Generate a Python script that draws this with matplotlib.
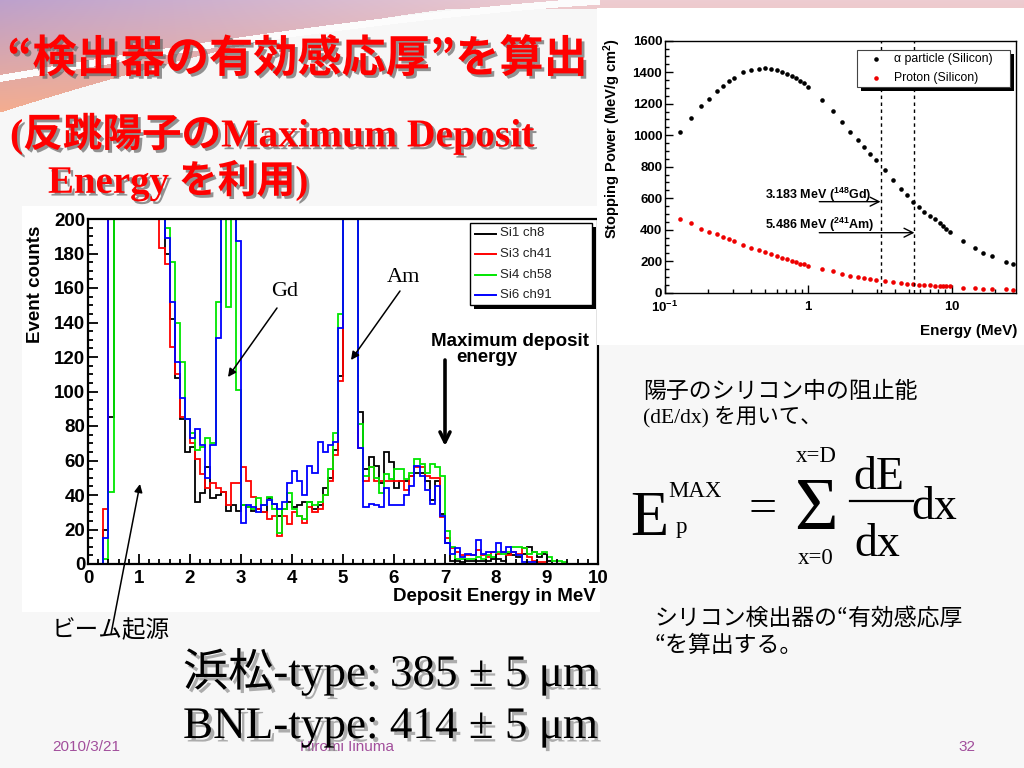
import numpy as np
import matplotlib
matplotlib.use("Agg")
import matplotlib.pyplot as plt
import matplotlib.patheffects as pe
from matplotlib.patches import Rectangle
from matplotlib.lines import Line2D
from matplotlib.ticker import MultipleLocator, LogLocator, NullFormatter

# ---------------- data ----------------
bin_edges_mev = np.round(np.linspace(0.0, 10.0, 101), 2)

# histogram counts per 0.1 MeV bin (values above 200 are off-scale)
si1_ch8 = [0, 0, 0, 20, 85, 250, 250, 250, 250, 250, 250, 250, 250, 250, 250,
           180, 142, 108, 84, 65, 68, 36, 41, 56, 38,
           40, 42, 31, 34, 31, 34, 33, 31, 32, 30,
           38, 35, 28, 32, 36, 33, 34, 36, 36, 32,
           34, 44, 50, 66, 109, 250, 250, 250,
           88, 55, 62, 57, 47, 65, 59, 44, 48, 48,
           51, 53, 53, 48, 37, 48, 29, 12, 2, 2,
           1, 2, 2, 2, 2, 2, 3, 3, 2, 6,
           5, 4, 6, 10, 7, 4, 6, 2, 0, 0, 0, 0, 0, 0, 0, 0, 0]
si3_ch41 = [0, 0, 0, 32, 250, 250, 250, 250, 250, 250, 250, 250, 250, 250,
            183, 174, 126, 110, 85, 84, 70, 61, 52, 44,
            47, 44, 42, 34, 47, 47, 56, 48, 39, 32,
            30, 26, 28, 16, 28, 23, 30, 28, 24, 33,
            30, 32, 40, 48, 63, 106, 250, 250, 250,
            67, 48, 56, 48, 48, 48, 48, 48, 48, 43,
            51, 56, 56, 51, 50, 50, 27, 15, 9, 7,
            5, 5, 5, 8, 5, 4, 7, 6, 7, 5,
            7, 6, 9, 4, 2, 1, 1, 0, 0, 0, 0, 0, 0, 0, 0, 0, 0]
si4_ch58 = [0, 0, 0, 3, 42, 250, 250, 250, 250, 250, 250, 250, 250, 250, 250,
            195, 175, 140, 117, 84, 76, 66, 68, 73, 70,
            152, 250, 149, 250, 101, 34, 33, 32, 38, 34,
            39, 32, 18, 32, 41, 32, 28, 26, 36, 34,
            36, 40, 55, 76, 145, 250, 250, 250,
            81, 51, 56, 50, 41, 52, 49, 55, 55, 49,
            53, 61, 58, 53, 58, 56, 51, 19, 10, 3,
            3, 3, 3, 4, 3, 5, 4, 7, 6, 7,
            10, 10, 9, 6, 7, 6, 7, 4, 2, 2, 1, 0, 0, 0, 0, 0, 0]
si6_ch91 = [0, 0, 0, 15, 250, 250, 250, 250, 250, 250, 250, 250, 250, 250, 250,
            189, 152, 117, 96, 84, 73, 78, 69, 50, 69,
            131, 250, 250, 250, 187, 24, 34, 33, 30, 34,
            37, 35, 32, 36, 47, 54, 48, 40, 57, 53,
            71, 65, 69, 71, 137, 250, 250, 250,
            67, 33, 35, 34, 33, 44, 34, 34, 34, 40,
            45, 57, 51, 43, 35, 45, 28, 12, 6, 9,
            4, 6, 5, 14, 6, 7, 7, 12, 7, 10,
            7, 5, 1, 1, 1, 0, 0, 0, 0, 0, 0, 0, 0, 0, 0, 0, 0]
series_values = [si1_ch8, si3_ch41, si4_ch58, si6_ch91]
series_labels = ["Si1 ch8", "Si3 ch41", "Si4 ch58", "Si6 ch91"]
series_colors = ["#000000", "#ff0000", "#00e600", "#0000ff"]

# stopping power in silicon (MeV/g cm^2)
energy_mev = [0.127, 0.153, 0.178, 0.203, 0.229, 0.253, 0.278, 0.303, 0.352, 0.40,
              0.45, 0.50, 0.55, 0.60, 0.65, 0.71, 0.77, 0.82, 0.88, 0.93, 1.0,
              1.24, 1.48, 1.71, 1.96, 2.22, 2.45, 2.70, 2.95, 3.41, 3.89,
              4.40, 4.90, 5.36, 5.87, 6.39, 7.0, 7.59, 8.22, 8.66, 9.14, 9.64,
              11.9, 14.4, 16.4, 19.0, 23.9, 26.5]
alpha_sp = [1022, 1111, 1183, 1230, 1281, 1314, 1344, 1365, 1403, 1414,
            1422, 1424, 1422, 1414, 1403, 1390, 1374, 1361, 1344, 1329, 1306,
            1221, 1154, 1082, 1022, 971, 923, 883, 843, 777, 715,
            660, 618, 578, 542, 514, 487, 466, 445, 423, 402, 385,
            328, 286, 254, 233, 195, 180]
proton_sp = [468, 440, 406, 387, 371, 354, 339, 326, 303, 286,
             271, 258, 246, 233, 220, 212, 201, 193, 184, 180, 171,
             150, 136, 121, 108, 100, 93, 85, 79, 74, 68,
             62, 57, 55, 51, 49, 47, 45, 43, 42, 40, 40,
             32, 28, 26, 24, 22, 20]
gd_energy = 3.183
am_energy = 5.486

# ---------------- figure ----------------
plt.rcParams['font.family'] = ['Liberation Sans', 'Noto Sans CJK JP']
plt.rcParams['mathtext.fontset'] = 'custom'
plt.rcParams['mathtext.rm'] = 'Liberation Sans:bold'
plt.rcParams['mathtext.it'] = 'Liberation Sans:bold'
plt.rcParams['mathtext.bf'] = 'Liberation Sans:bold'

W, H = 1024, 768
fig = plt.figure(figsize=(10.24, 7.68), dpi=100)


def fx(x):
    return x / W


def fy(y):
    return 1 - y / H


# background
bg = fig.add_axes([0, 0, 1, 1], zorder=0)
bg.set_xlim(0, W)
bg.set_ylim(H, 0)
bg.axis('off')
yy, xx = np.mgrid[0:H, 0:W].astype(float)
img = np.ones((H, W, 3)) * 0.972
yb = 112 * np.clip(1 - xx / 560, 0, None) ** 1.6
t = np.clip(xx / 560, 0, 1)[..., None]
s = np.clip(yy / 112, 0, 1)[..., None]
purple = np.array([0.74, 0.63, 0.80])
pink = np.array([0.93, 0.80, 0.82])
orange = np.array([0.96, 0.68, 0.56])
col = (1 - s) * ((1 - t) * purple + t * pink) + s * orange
mask = (yy < yb) | (yy < 9)
img[mask] = col[mask]
ys = 78 * np.clip(1 - xx / 620, 0, None) ** 1.35
stripe = (np.abs(yy - ys) < 3.5) & (xx < 600)
img[stripe] = 0.99
bg.imshow(img, extent=(0, W, H, 0), aspect='auto', interpolation='bilinear')

# white panels
fig.add_artist(Rectangle((fx(22), fy(612)), fx(600) - fx(22), fy(206) - fy(612),
                         transform=fig.transFigure, facecolor='white', edgecolor='none', zorder=0.5))
fig.add_artist(Rectangle((fx(597), fy(345)), fx(1024) - fx(597), fy(8) - fy(345),
                         transform=fig.transFigure, facecolor='white', edgecolor='none', zorder=2))

# ---------------- histogram ----------------
axh = fig.add_axes([fx(88), fy(564), fx(598) - fx(88), fy(219) - fy(564)], zorder=1)
for vals, c, lab in zip(series_values, series_colors, series_labels):
    axh.stairs(vals, bin_edges_mev, color=c, lw=1.3, label=lab)
axh.set_xlim(0, 10)
axh.set_ylim(0, 200)
for sp in axh.spines.values():
    sp.set_linewidth(1.6)
axh.xaxis.set_major_locator(MultipleLocator(1))
axh.xaxis.set_minor_locator(MultipleLocator(0.2))
axh.yaxis.set_major_locator(MultipleLocator(20))
axh.yaxis.set_minor_locator(MultipleLocator(5))
axh.tick_params(which='both', direction='in', top=False, right=False, width=1.3)
axh.tick_params(which='major', length=7, labelsize=13.5)
axh.tick_params(which='minor', length=3.5)
axh.tick_params(axis='y', pad=2)
axh.tick_params(axis='x', pad=4)
for lbl in axh.get_xticklabels() + axh.get_yticklabels():
    lbl.set_fontweight('bold')

# ---------------- stopping power ----------------
axs = fig.add_axes([fx(665), fy(292.7), fx(1016) - fx(665), fy(40.7) - fy(292.7)], zorder=3)
axs.set_xscale('log')
axs.set_xlim(0.1, 28)
axs.set_ylim(0, 1600)
axs.plot(energy_mev, alpha_sp, 'o', color='black', ms=3.3, mec='none')
axs.plot(energy_mev, proton_sp, 'o', color='#ee0000', ms=3.3, mec='none')
for e in (gd_energy, am_energy):
    axs.axvline(e, color='black', lw=1.0, ls=(0, (2.5, 2.5)))
axs.annotate('', xy=(gd_energy, 578), xytext=(1.19, 578),
             arrowprops=dict(arrowstyle='->', lw=1.0, color='black', mutation_scale=16,
                             shrinkA=0, shrinkB=0))
axs.annotate('', xy=(am_energy, 381), xytext=(1.19, 381),
             arrowprops=dict(arrowstyle='->', lw=1.0, color='black', mutation_scale=16,
                             shrinkA=0, shrinkB=0))
axs.text(0.5, 593, r'$3.183\ MeV\ (^{148}Gd)$', fontsize=9, ha='left', va='baseline')
axs.text(0.5, 402, r'$5.486\ MeV\ (^{241}Am)$', fontsize=9, ha='left', va='baseline')
axs.set_xticks([0.1, 1, 10])
axs.set_xticklabels([r'$10^{-1}$', r'$1$', r'$10$'])
axs.xaxis.set_minor_locator(LogLocator(base=10, subs=np.arange(2, 10)))
axs.xaxis.set_minor_formatter(NullFormatter())
axs.yaxis.set_major_locator(MultipleLocator(200))
axs.yaxis.set_minor_locator(MultipleLocator(50))
axs.tick_params(which='both', direction='in', top=False, right=False, width=1.0)
axs.tick_params(which='major', length=6, labelsize=9.5)
axs.tick_params(which='minor', length=3)
axs.tick_params(axis='y', pad=2)
axs.tick_params(axis='x', pad=5)
for lbl in axs.get_yticklabels():
    lbl.set_fontweight('bold')
for sp in axs.spines.values():
    sp.set_linewidth(1.0)

# ---------------- overlay texts ----------------
ov = fig.add_axes([0, 0, 1, 1], zorder=10)
ov.set_xlim(0, W)
ov.set_ylim(H, 0)
ov.axis('off')
ov.patch.set_alpha(0)

shadow = [pe.withSimplePatchShadow(offset=(2, -2), shadow_rgbFace=(0.4, 0.4, 0.4), alpha=0.7)]
ov.text(7, 59, '“検出器の有効感応厚”を算出', color='#ff0000', fontsize=31.8, fontweight='bold',
        family=['Noto Sans CJK JP'], ha='left', va='center', path_effects=shadow, zorder=20)
ov.text(10, 134, '(反跳陽子のMaximum Deposit', color='#ff0000', fontsize=28.5, fontweight='bold',
        family=['Liberation Serif', 'Noto Sans CJK JP'], ha='left', va='center', path_effects=shadow)
ov.text(48, 181, 'Energy を利用)', color='#ff0000', fontsize=28, fontweight='bold',
        family=['Liberation Serif', 'Noto Sans CJK JP'], ha='left', va='center', path_effects=shadow)

# histogram axis titles
ov.text(35, 226, 'Event counts', rotation=90, ha='center', va='top', fontsize=13.5, fontweight='bold')
ov.text(596, 601, 'Deposit Energy in MeV', ha='right', va='baseline', fontsize=13.5, fontweight='bold')

# histogram legend
ov.add_patch(Rectangle((474, 227), 122, 82, facecolor='black', edgecolor='none', zorder=11))
ov.add_patch(Rectangle((470, 223), 122, 82, facecolor='white', edgecolor='black', lw=1.0, zorder=12))
for i, (c, lab) in enumerate(zip(series_colors, series_labels)):
    yl = 233.5 + i * 20.6
    ov.add_line(Line2D([475, 496], [yl, yl], color=c, lw=1.4, zorder=13))
    ov.text(500, yl, lab, fontsize=9.5, ha='left', va='center', color='#222222', zorder=13)

# histogram annotations
ov.text(285, 291, 'Gd', family='Liberation Serif', fontsize=16, ha='center', va='center')
ov.text(403, 277, 'Am', family='Liberation Serif', fontsize=16, ha='center', va='center')
arrow_thin = dict(arrowstyle='-|>', color='black', lw=1.1, mutation_scale=12, shrinkA=0, shrinkB=0)
ov.annotate('', xy=(228, 377), xytext=(277, 308), arrowprops=arrow_thin)
ov.annotate('', xy=(351, 360), xytext=(400, 291), arrowprops=arrow_thin)
ov.annotate('', xy=(140, 484), xytext=(111, 634), arrowprops=arrow_thin)
ov.text(510, 342, 'Maximum deposit', fontsize=13.5, fontweight='bold', ha='center', va='center')
ov.text(487, 357, 'energy', fontsize=13.5, fontweight='bold', ha='center', va='center')
ov.annotate('', xy=(445, 446), xytext=(445, 360),
            arrowprops=dict(arrowstyle='->', color='black', lw=2.6, mutation_scale=18,
                            shrinkA=0, shrinkB=0))
ov.text(52, 631, 'ビーム起源', family=['Noto Sans CJK JP'], fontsize=17, ha='left', va='center')

# stopping power labels + legend
ov.text(612, 38, r'Stopping Power (MeV/g cm$^{2}$)', rotation=90, ha='center', va='top',
        fontsize=10.5, fontweight='bold')
ov.text(1017, 335, 'Energy (MeV)', ha='right', va='baseline', fontsize=11, fontweight='bold')
ov.add_patch(Rectangle((861, 54), 153, 37, facecolor='black', edgecolor='none', zorder=11))
ov.add_patch(Rectangle((857, 50), 153, 37, facecolor='white', edgecolor='#444444', lw=0.8, zorder=12))
ov.plot([876], [59], 'o', color='black', ms=3.3, mec='none', zorder=13)
ov.plot([876], [78], 'o', color='#ee0000', ms=3.3, mec='none', zorder=13)
ov.text(894, 59, 'α particle (Silicon)', fontsize=8.8, ha='left', va='center', zorder=13)
ov.text(894, 78, 'Proton (Silicon)', fontsize=8.8, ha='left', va='center', zorder=13)

# right side explanation
cjk = ['Noto Sans CJK JP']
mixed = ['Liberation Serif', 'Noto Sans CJK JP']
ov.text(643, 391, '陽子のシリコン中の阻止能', family=cjk, fontsize=16.5, ha='left', va='center')
ov.text(643, 417, '(dE/dx) を用いて、', family=mixed, fontsize=15.5, ha='left', va='center')

serif = 'Liberation Serif'
ov.text(630, 535, 'E', family=serif, fontsize=45, ha='left', va='baseline')
ov.text(668, 497, 'MAX', family=serif, fontsize=16.5, ha='left', va='baseline')
ov.text(676, 533, 'p', family=serif, fontsize=16.5, ha='left', va='baseline')
ov.text(763, 510, '=', family=serif, fontsize=36, ha='center', va='center')
ov.text(816, 511, 'Σ', family=serif, fontsize=54, ha='center', va='center')
ov.text(816, 457, 'x=D', family=serif, fontsize=16.5, ha='center', va='center')
ov.text(816, 558, 'x=0', family=serif, fontsize=16.5, ha='center', va='center')
ov.text(879, 489, 'dE', family=serif, fontsize=33, ha='center', va='baseline')
ov.add_line(Line2D([850, 913], [501, 501], color='black', lw=1.6))
ov.text(877, 556, 'dx', family=serif, fontsize=33, ha='center', va='baseline')
ov.text(911, 519, 'dx', family=serif, fontsize=33, ha='left', va='baseline')

ov.text(655, 618, 'シリコン検出器の“有効感応厚', family=cjk, fontsize=16.5, ha='left', va='center')
ov.text(655, 645, '“を算出する。', family=cjk, fontsize=16.5, ha='left', va='center')

# footer
purple_txt = '#a24f9c'
ov.text(52, 751, '2010/3/21', fontsize=11, color=purple_txt, ha='left', va='baseline', zorder=10)
ov.text(300, 751, 'Hiromi Iinuma', fontsize=11, color=purple_txt, ha='left', va='baseline', zorder=10)
ov.text(975, 751, '32', fontsize=11, color=purple_txt, ha='right', va='baseline', zorder=10)

shadow2 = [pe.withSimplePatchShadow(offset=(2.5, -2.5), shadow_rgbFace=(0.55, 0.55, 0.55), alpha=0.7)]
ov.text(183, 686, '浜松-type: 385 ± 5 μm', family=mixed, fontsize=32.5, ha='left', va='baseline',
        path_effects=shadow2, zorder=12)
ov.text(183, 738, 'BNL-type: 414 ± 5 μm', family=mixed, fontsize=32.5, ha='left', va='baseline',
        path_effects=shadow2, zorder=12)

fig.savefig('out.png', dpi=100)
